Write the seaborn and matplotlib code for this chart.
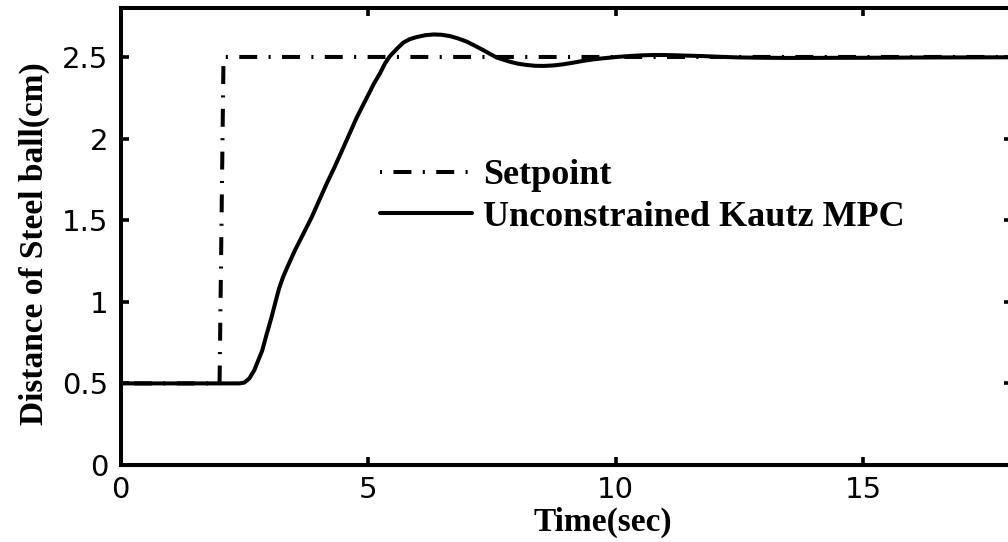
import matplotlib
matplotlib.use("Agg")
import matplotlib.pyplot as plt
import seaborn as sns
import pandas as pd

# Setpoint trajectory (step from 0.5 cm to 2.5 cm at t = 2 s)
setpoint_time = [0.0, 2.0, 2.08, 18.0]
setpoint_value = [0.5, 0.5, 2.5, 2.5]

# Closed-loop ball position under the unconstrained Kautz MPC
response_time = [0.0, 1.0, 2.0, 2.4, 2.5, 2.6, 2.7, 2.78, 2.86, 2.95, 3.05, 3.13,
                 3.20, 3.28, 3.38, 3.52, 3.69, 3.86, 4.01, 4.16, 4.32, 4.47, 4.62, 4.77,
                 4.94, 5.04, 5.11, 5.24, 5.34, 5.44, 5.58, 5.71, 5.84, 5.98, 6.15,
                 6.32, 6.48, 6.65, 6.82, 6.99, 7.16, 7.33, 7.47, 7.60, 7.86, 8.02,
                 8.20, 8.37, 8.54, 8.74, 8.94, 9.14, 9.34, 9.54, 9.75, 10.02,
                 10.29, 10.52, 10.76, 11.0, 11.23, 11.46, 11.70, 12.1, 12.5, 13.0,
                 13.5, 15.0, 16.5, 18.0]
response_value = [0.5, 0.5, 0.5, 0.5, 0.505, 0.53, 0.58, 0.64, 0.70, 0.80, 0.906, 1.00,
                  1.08, 1.15, 1.22, 1.314, 1.416, 1.518, 1.62, 1.722, 1.824, 1.925, 2.027, 2.129,
                  2.231, 2.29, 2.333, 2.40, 2.46, 2.505, 2.55, 2.588, 2.609, 2.622, 2.633,
                  2.638, 2.636, 2.628, 2.613, 2.594, 2.568, 2.541, 2.517, 2.496, 2.471,
                  2.459, 2.451, 2.446, 2.445, 2.448, 2.455, 2.465, 2.476, 2.485, 2.492,
                  2.500, 2.506, 2.510, 2.512, 2.512, 2.510, 2.508, 2.506, 2.501, 2.497,
                  2.495, 2.494, 2.495, 2.497, 2.498]

x_ticks = [0, 5, 10, 15]
x_tick_labels = ["0", "5", "10", "15"]
y_ticks = [0, 0.5, 1, 1.5, 2, 2.5]
y_tick_labels = ["0", "0.5", "1", "1.5", "2", "2.5"]

sns.set_style("white")
plt.rcParams["lines.scale_dashes"] = False
plt.rcParams["font.family"] = ["DejaVu Sans"]
plt.rcParams["text.color"] = "black"
plt.rcParams["axes.labelcolor"] = "black"

setpoint_df = pd.DataFrame({"t": setpoint_time, "y": setpoint_value})
response_df = pd.DataFrame({"t": response_time, "y": response_value})

fig = plt.figure(figsize=(10.08, 5.42), dpi=100)
W, H = 1008.0, 542.0
ax = fig.add_axes([120.5 / W, (H - 465) / H, (1012 - 120.5) / W, (465 - 8) / H])

LW = 2.9
sns.lineplot(data=setpoint_df, x="t", y="y", ax=ax, color="black", lw=LW,
             sort=False, estimator=None, label="Setpoint")
sns.lineplot(data=response_df, x="t", y="y", ax=ax, color="black", lw=LW,
             sort=False, estimator=None, label="Unconstrained Kautz MPC")

# dash-dot pattern in points: dash, gap, dot, gap (offset starts on the dot)
dash, gap, dot = 12.9, 8.2, 1.5
ax.lines[0].set_linestyle((dash + gap, (dash, gap, dot, gap)))
ax.lines[0].set_dash_capstyle("butt")
ax.lines[1].set_solid_capstyle("round")
ax.lines[1].set_solid_joinstyle("round")

ax.set_xlim(0, 18)
ax.set_ylim(0, 2.8)
ax.set_xticks(x_ticks)
ax.set_xticklabels(x_tick_labels)
ax.set_yticks(y_ticks)
ax.set_yticklabels(y_tick_labels)

ax.tick_params(axis="both", which="major", direction="in", length=5.6, width=2.6,
               labelsize=21, top=True, right=True, bottom=True, left=True,
               color="black", labelcolor="black")
ax.tick_params(axis="x", pad=8)
ax.tick_params(axis="y", pad=9)
for s in ax.spines.values():
    s.set_visible(True)
    s.set_linewidth(2.9)
    s.set_color("black")

serif_bold = dict(family="Liberation Serif", weight="bold", color="black")
ax.set_xlabel("Time(sec)", fontsize=24, **serif_bold)
ax.set_ylabel("Distance of Steel ball(cm)", fontsize=24, **serif_bold)
ax.xaxis.set_label_coords(0.541, -0.092)
ax.yaxis.set_label_coords(-0.079, 0.484)

leg = ax.legend(loc="center left", bbox_to_anchor=(0.291, 0.588), frameon=False,
                prop=dict(family="Liberation Serif", weight="bold", size=26),
                handlelength=2.55, handletextpad=0.3, labelspacing=0.22,
                borderpad=0, borderaxespad=0)
for t in leg.get_texts():
    t.set_color("black")

fig.savefig("out.png", dpi=100, facecolor="white")
